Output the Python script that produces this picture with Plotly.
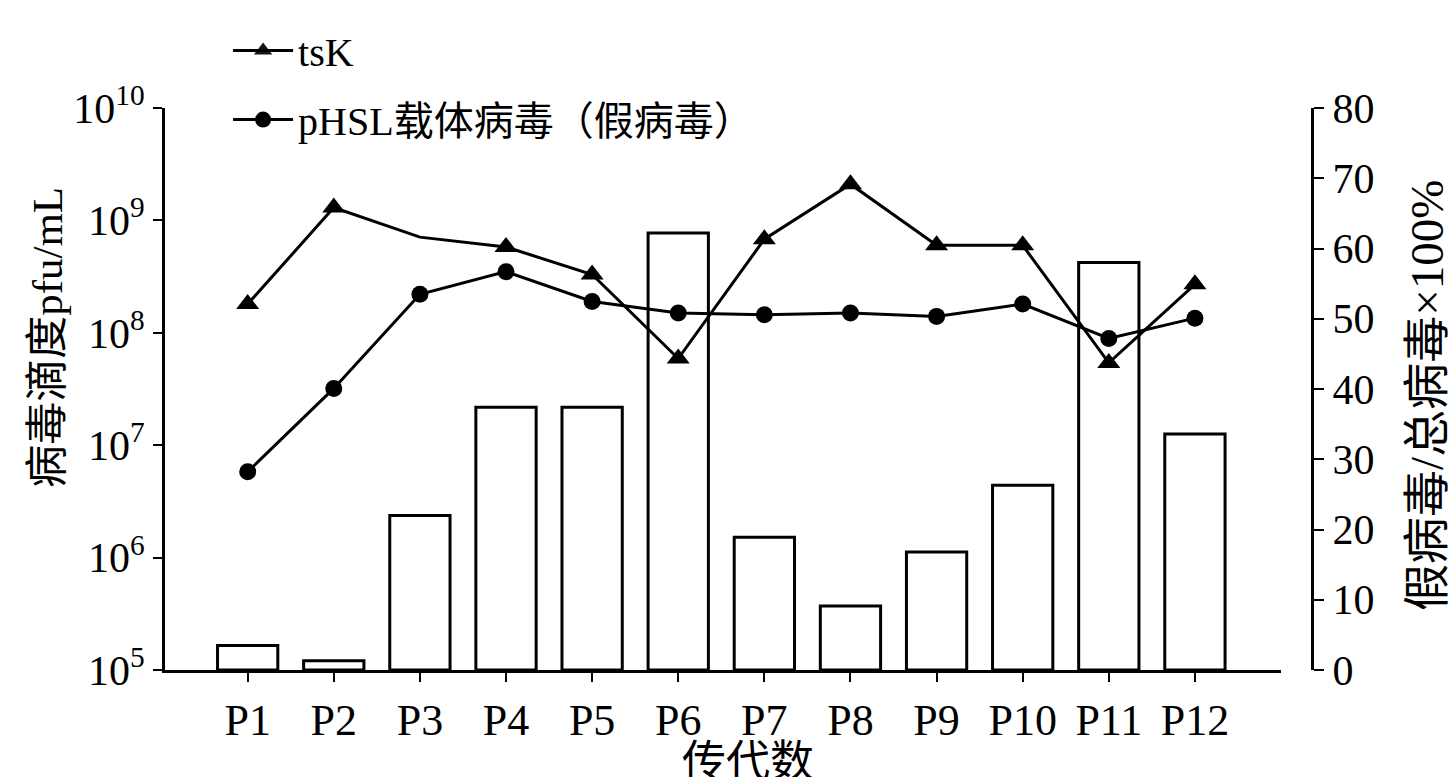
import plotly.graph_objects as go

# Passages
passages = ["P1", "P2", "P3", "P4", "P5", "P6", "P7", "P8", "P9", "P10", "P11", "P12"]

# Virus titre (pfu/mL), log scale
tsk_titre = [1.8e8, 1.3e9, 7.1e8, 5.8e8, 3.3e8, 5.9e7, 6.8e8, 2.1e9, 6.0e8, 6.0e8, 5.4e7, 2.7e8]
phsl_titre = [5.8e6, 3.2e7, 2.2e8, 3.5e8, 1.9e8, 1.5e8, 1.45e8, 1.5e8, 1.4e8, 1.8e8, 8.9e7, 1.35e8]

# Pseudovirus / total virus x 100%
pseudo_pct = [3.5, 1.3, 22.0, 37.4, 37.4, 62.2, 18.9, 9.1, 16.8, 26.3, 58.0, 33.6]

left_tickvals = [1e5, 1e6, 1e7, 1e8, 1e9, 1e10]
left_ticktext = ["10<sup>5</sup>", "10<sup>6</sup>", "10<sup>7</sup>", "10<sup>8</sup>",
                 "10<sup>9</sup>", "10<sup>10</sup>"]

SERIF = "Liberation Serif, Times New Roman, Noto Sans CJK SC, serif"
INK = "black"

fig = go.Figure()

# Percentage bars (right axis)
fig.add_trace(go.Bar(
    x=passages, y=pseudo_pct, yaxis="y", width=0.7,
    marker=dict(color="rgba(255,255,255,0)", line=dict(color=INK, width=3)),
    showlegend=False,
))

# Titre lines (left log axis); the P3 triangle is left unmarked
fig.add_trace(go.Scatter(
    x=passages, y=tsk_titre, yaxis="y2", name="tsK", legendgroup="a",
    mode="lines+markers",
    line=dict(color=INK, width=3),
    marker=dict(symbol="triangle-up", size=20, color=INK,
                opacity=[1, 1, 0, 1, 1, 1, 1, 1, 1, 1, 1, 1],
                line=dict(width=0)),
))
fig.add_trace(go.Scatter(
    x=passages, y=phsl_titre, yaxis="y2", name="pHSL载体病毒（假病毒）", legendgroup="b",
    mode="lines+markers",
    line=dict(color=INK, width=3),
    marker=dict(symbol="circle", size=17, color=INK, line=dict(width=0)),
))

fig.update_layout(
    width=1452, height=777,
    margin=dict(l=165, r=140, t=108, b=107),
    paper_bgcolor="white", plot_bgcolor="white",
    font=dict(family=SERIF, color=INK, size=42),
    bargap=0.3,
    xaxis=dict(
        domain=[0, 0.973], type="category", range=[-0.96, 12.0],
        showline=True, linecolor=INK, linewidth=3,
        ticks="outside", ticklen=9, tickwidth=2, tickcolor=INK,
        tickfont=dict(size=44, family=SERIF),
        showgrid=False, zeroline=False,
    ),
    yaxis=dict(
        side="right", anchor="free", position=1.0,
        range=[0, 80], dtick=10,
        showline=True, linecolor=INK, linewidth=3,
        ticks="outside", ticklen=10, tickwidth=2, tickcolor=INK,
        tickfont=dict(size=42, family=SERIF),
        showgrid=False, zeroline=False,
    ),
    yaxis2=dict(
        overlaying="y", side="left", anchor="x", type="log", range=[5, 10],
        tickvals=left_tickvals, ticktext=left_ticktext,
        showline=True, linecolor=INK, linewidth=3,
        ticks="outside", ticklen=9, tickwidth=2, tickcolor=INK,
        tickfont=dict(size=42, family=SERIF),
        showgrid=False, zeroline=False,
    ),
    legend=dict(
        x=0.055, y=1.16, xanchor="left", yanchor="top",
        bgcolor="rgba(0,0,0,0)", font=dict(size=40, family=SERIF),
        traceorder="grouped", tracegroupgap=14, itemwidth=60,
    ),
    annotations=[
        dict(text="病毒滴度pfu/mL", xref="paper", yref="paper", x=-0.102, y=0.591,
             textangle=-90, showarrow=False, font=dict(size=43, family=SERIF),
             xanchor="center", yanchor="middle"),
        dict(text="假病毒/总病毒×100%", xref="paper", yref="paper", x=1.100, y=0.489,
             textangle=-90, showarrow=False, font=dict(size=47, family=SERIF),
             xanchor="center", yanchor="middle"),
        dict(text="传代数", xref="paper", yref="paper", x=0.508, y=-0.165,
             showarrow=False, font=dict(size=44, family=SERIF),
             xanchor="center", yanchor="middle"),
    ],
)

fig.write_html("out.html")
